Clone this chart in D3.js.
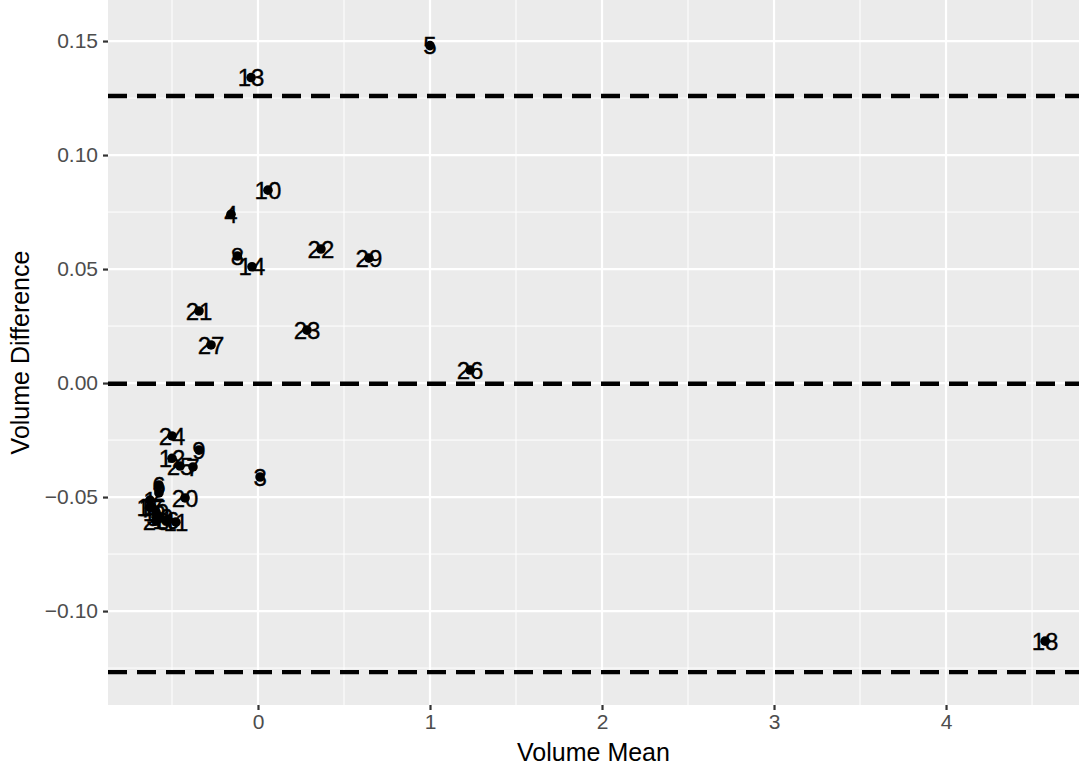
<!DOCTYPE html>
<html><head><meta charset="utf-8">
<script src="https://cdn.jsdelivr.net/npm/d3@7"></script>
<style>body{margin:0;background:#fff;}svg{display:block;font-family:"Liberation Sans",Arial,sans-serif;}</style>
</head><body>
<script>
// Data (Bland-Altman style)
const labels = ["1","2","3","4","5","6","7","8","9","10","11","12","13","14","15","16","17","18","19","20","21","22","23","24","25","26","27","28","29","30"];
const meanVals = [-0.628,-0.576,0.012,-0.157,1.0,-0.576,-0.378,-0.12,-0.343,0.058,-0.477,-0.5,-0.04,-0.035,-0.616,-0.535,-0.628,4.576,-0.593,-0.424,-0.343,0.366,0.285,-0.5,-0.453,1.233,-0.273,-0.593,0.645,-0.57];
const diffVals = [-0.0513,-0.0482,-0.0412,0.074,0.148,-0.0447,-0.0368,0.0557,-0.0294,0.0846,-0.061,-0.033,0.134,0.051,-0.0545,-0.0601,-0.0545,-0.1132,-0.0566,-0.0504,0.0316,0.0588,0.0232,-0.0232,-0.0364,0.0057,0.0167,-0.0605,0.0548,-0.0588];
const refLines = [0.1259, -0.0003, -0.1268];
const xTicks = [0,1,2,3,4];
const yTicks = [-0.10,-0.05,0.00,0.05,0.10,0.15];
const xMinor = [-0.5,0.5,1.5,2.5,3.5,4.5];
const yMinor = [-0.125,-0.075,-0.025,0.025,0.075,0.125];

const W = 1079, H = 767;
const P = {left:108, right:1079, top:0, bottom:705};
const svg = d3.select("body").append("svg").attr("width",W).attr("height",H);
const x = d3.scaleLinear().domain([-0.872,4.773]).range([P.left,P.right]);
const y = d3.scaleLinear().domain([-0.1412,0.168]).range([P.bottom,P.top]);

svg.append("rect").attr("x",P.left).attr("y",P.top).attr("width",P.right-P.left).attr("height",P.bottom-P.top).attr("fill","#EBEBEB");
const g = svg.append("g");
g.selectAll(".xmin").data(xMinor).join("line").attr("x1",d=>x(d)).attr("x2",d=>x(d)).attr("y1",P.top).attr("y2",P.bottom).attr("stroke","#fff").attr("stroke-width",1);
g.selectAll(".ymin").data(yMinor).join("line").attr("y1",d=>y(d)).attr("y2",d=>y(d)).attr("x1",P.left).attr("x2",P.right).attr("stroke","#fff").attr("stroke-width",1);
g.selectAll(".xmaj").data(xTicks).join("line").attr("x1",d=>x(d)).attr("x2",d=>x(d)).attr("y1",P.top).attr("y2",P.bottom).attr("stroke","#fff").attr("stroke-width",2.2);
g.selectAll(".ymaj").data(yTicks).join("line").attr("y1",d=>y(d)).attr("y2",d=>y(d)).attr("x1",P.left).attr("x2",P.right).attr("stroke","#fff").attr("stroke-width",2.2);

// reference lines
g.selectAll(".ref").data(refLines).join("line").attr("x1",P.left).attr("x2",P.right).attr("y1",d=>y(d)).attr("y2",d=>y(d))
 .attr("stroke","#000").attr("stroke-width",4.3).attr("stroke-dasharray","19,10");

const data = labels.map((l,i)=>({l, m:meanVals[i], d:diffVals[i]}));
g.selectAll("circle").data(data).join("circle").attr("cx",d=>x(d.m)).attr("cy",d=>y(d.d)).attr("r",4.8).attr("fill","#000");
g.selectAll(".lab").data(data).join("text").attr("x",d=>x(d.m)).attr("y",d=>y(d.d)).attr("dy","0.36em")
 .attr("text-anchor","middle").attr("font-size",24).attr("fill","#000").attr("stroke","#000").attr("stroke-width",0.35).text(d=>d.l);

// axes
const xa = svg.append("g").attr("transform",`translate(0,${P.bottom})`)
  .call(d3.axisBottom(x).tickValues(xTicks).tickFormat(d3.format("d")).tickSize(5).tickPadding(4));
const ya = svg.append("g").attr("transform",`translate(${P.left},0)`)
  .call(d3.axisLeft(y).tickValues(yTicks).tickFormat(d3.format(".2f")).tickSize(5).tickPadding(5));
[xa,ya].forEach(a=>{
  a.select(".domain").remove();
  a.selectAll(".tick line").attr("stroke","#333").attr("stroke-width",2.2);
  a.selectAll(".tick text").attr("fill","#4D4D4D").attr("font-size",21).attr("font-family","Liberation Sans, Arial, sans-serif");
});
svg.append("text").attr("x",(P.left+P.right)/2).attr("y",761).attr("text-anchor","middle").attr("font-size",25).attr("fill","#000").text("Volume Mean");
svg.append("text").attr("transform",`translate(29,${(P.top+P.bottom)/2}) rotate(-90)`).attr("text-anchor","middle").attr("font-size",25).attr("fill","#000").text("Volume Difference");
</script>
</body></html>
